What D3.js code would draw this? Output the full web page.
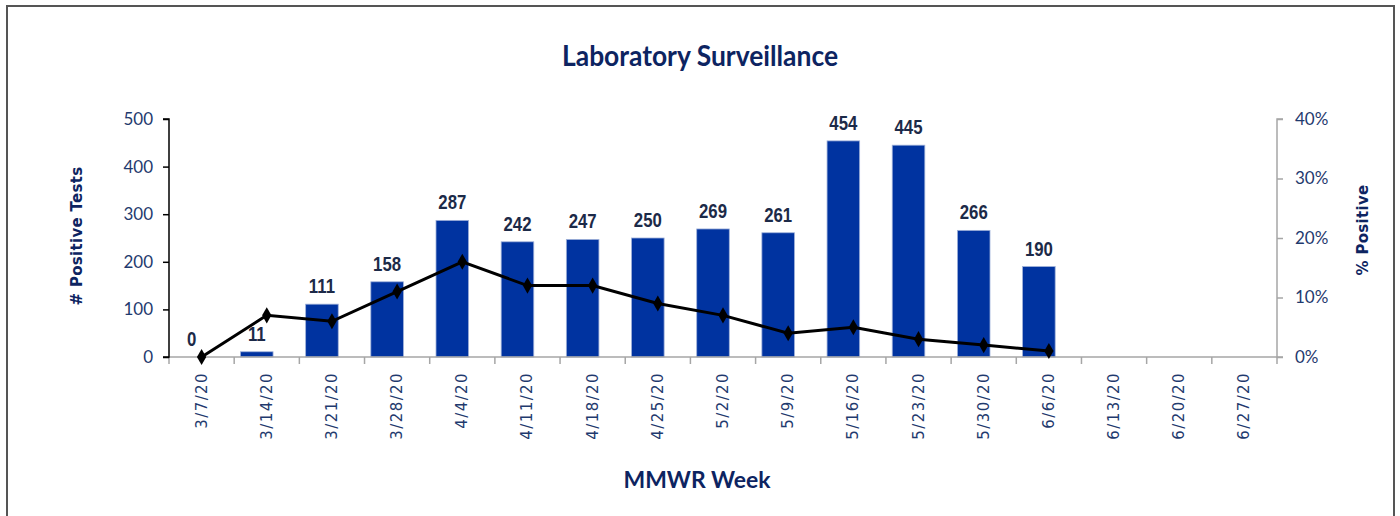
<!DOCTYPE html>
<meta charset="utf-8">
<script src="https://d3js.org/d3.v7.min.js"></script>
<style>
  body { margin: 0; background: #fff; }
  svg { display: block; }
</style>
<svg id="chart" width="1400" height="516"></svg>
<script>

// Data
var weeks = ["3/7/20", "3/14/20", "3/21/20", "3/28/20", "4/4/20", "4/11/20", "4/18/20",
  "4/25/20", "5/2/20", "5/9/20", "5/16/20", "5/23/20", "5/30/20", "6/6/20",
  "6/13/20", "6/20/20", "6/27/20"];
var positiveTests = [0, 11, 111, 158, 287, 242, 247, 250, 269, 261, 454, 445, 266, 190];
var percentPositive = [0, 7, 6, 11, 16, 12, 12, 9, 7, 4, 5, 3, 2, 1];
var leftTicks = [0, 100, 200, 300, 400, 500];
var rightTicks = [0, 10, 20, 30, 40];

var svg = d3.select("#chart");

var navy = "#1f3a6e";
var barColor = "#0033a0";

// frame around the chart
svg.append("rect")
  .attr("x", 7).attr("y", 6)
  .attr("width", 1387).attr("height", 530)
  .attr("fill", "none")
  .attr("stroke", "#555")
  .attr("stroke-width", 2);

// scales
var x = d3.scaleBand()
  .domain(weeks)
  .range([169, 1277]);

var y = d3.scaleLinear()
  .domain([0, 500])
  .range([357, 119]);

var y2 = d3.scaleLinear()
  .domain([0, 40])
  .range([357, 119]);

// title
svg.append("text")
  .attr("x", 700).attr("y", 66)
  .attr("text-anchor", "middle")
  .attr("textLength", 276)
  .attr("lengthAdjust", "spacingAndGlyphs")
  .style("font", "bold 29px Lato")
  .style("fill", "#0d2461")
  .text("Laboratory Surveillance");

// bars (sit a little left of the category centre, like the original)
var barData = positiveTests.map(function(v, i) { return { week: weeks[i], value: v }; });
var barW = x.bandwidth() * 0.5;
var barShift = -10;
var barMid = function(d) { return x(d.week) + x.bandwidth() / 2 + barShift; };

svg.append("g")
  .selectAll("rect")
  .data(barData)
  .enter()
  .append("rect")
    .attr("x", function(d) { return barMid(d) - barW / 2; })
    .attr("y", function(d) { return y(d.value); })
    .attr("width", barW)
    .attr("height", function(d) { return y(0) - y(d.value); })
    .attr("fill", barColor)
    .attr("stroke", function(d) { return d.value > 0 ? "#9fb1d9" : "none"; })
    .attr("stroke-width", 0.8);

// x axis
var xAxis = svg.append("g")
  .attr("transform", "translate(0," + y(0) + ")");

xAxis.append("line")
  .attr("x1", 169).attr("x2", 1277)
  .attr("stroke", "#a6a6a6")
  .attr("stroke-width", 1.5);

var bounds = weeks.map(function(w) { return x(w); }).concat([x.range()[1]]);
xAxis.selectAll("line.tick")
  .data(bounds)
  .enter()
  .append("line")
    .attr("class", "tick")
    .attr("x1", function(d) { return d; })
    .attr("x2", function(d) { return d; })
    .attr("y1", 0).attr("y2", 7)
    .attr("stroke", "#a6a6a6")
    .attr("stroke-width", 1.5);

xAxis.selectAll("text")
  .data(weeks)
  .enter()
  .append("text")
    .attr("transform", function(d) {
      return "translate(" + (x(d) + x.bandwidth() / 2 + 5) + ",15) rotate(-90)";
    })
    .attr("text-anchor", "end")
    .style("font", "15px 'DejaVu Sans'")
    .style("letter-spacing", "1.4px")
    .style("fill", navy)
    .text(function(d) { return d; });

// left axis
var yAxis = svg.append("g")
  .attr("transform", "translate(169,0)")
  .call(d3.axisLeft(y).tickValues(leftTicks).tickSize(6).tickPadding(10));
yAxis.select(".domain").attr("stroke", "#000").attr("stroke-width", 1.5).attr("d", "M-6," + y(500) + "H0V" + y(0) + "H-6");
yAxis.selectAll(".tick line").attr("stroke", "#000").attr("stroke-width", 1.5);
yAxis.selectAll(".tick text")
  .style("font", "17px Lato")
  .style("fill", navy);

// right axis
var yAxis2 = svg.append("g")
  .attr("transform", "translate(1277,0)")
  .call(d3.axisRight(y2).tickValues(rightTicks).tickSize(6).tickPadding(12)
    .tickFormat(function(d) { return d + "%"; }));
yAxis2.select(".domain").attr("stroke", "#a6a6a6").attr("stroke-width", 1.5).attr("d", "M6," + y2(40) + "H0V" + y2(0) + "H6");
yAxis2.selectAll(".tick line").attr("stroke", "#a6a6a6").attr("stroke-width", 1.5);
yAxis2.selectAll(".tick text")
  .style("font", "17px Lato")
  .style("fill", navy);

// percent positive line
var lineData = percentPositive.map(function(v, i) { return { week: weeks[i], value: v }; });
var cx = function(d) { return x(d.week) + x.bandwidth() / 2; };

svg.append("path")
  .datum(lineData)
  .attr("fill", "none")
  .attr("stroke", "#000")
  .attr("stroke-width", 3)
  .attr("d", d3.line()
    .x(cx)
    .y(function(d) { return y2(d.value); }));

svg.append("g")
  .selectAll("path")
  .data(lineData)
  .enter()
  .append("path")
    .attr("d", d3.symbol().type(d3.symbolDiamond).size(75))
    .attr("transform", function(d) { return "translate(" + cx(d) + "," + y2(d.value) + ")"; })
    .attr("fill", "#000");

// bar value labels (narrow bold, squeezed horizontally)
svg.append("g")
  .selectAll("text")
  .data(barData)
  .enter()
  .append("text")
    .attr("transform", function(d) {
      return "translate(" + barMid(d) + "," + (y(d.value) - 11) + ") scale(0.84,1)";
    })
    .attr("text-anchor", "middle")
    .style("font", "bold 20px 'Liberation Sans'")
    .style("fill", "#1c2a48")
    .text(function(d) { return d.value; });

// axis titles
svg.append("text")
  .attr("transform", "translate(82,236) rotate(-90)")
  .attr("text-anchor", "middle")
  .style("font", "bold 15px 'DejaVu Sans'")
  .style("letter-spacing", "0.3px")
  .style("fill", "#0d2461")
  .text("# Positive Tests");

svg.append("text")
  .attr("transform", "translate(1368,230) rotate(-90)")
  .attr("text-anchor", "middle")
  .style("font", "bold 15px 'DejaVu Sans'")
  .style("letter-spacing", "0.3px")
  .style("fill", "#0d2461")
  .text("% Positive");

svg.append("text")
  .attr("x", 697).attr("y", 488)
  .attr("text-anchor", "middle")
  .attr("textLength", 147)
  .attr("lengthAdjust", "spacingAndGlyphs")
  .style("font", "bold 23px Lato")
  .style("fill", "#0d2461")
  .text("MMWR Week");

</script>
